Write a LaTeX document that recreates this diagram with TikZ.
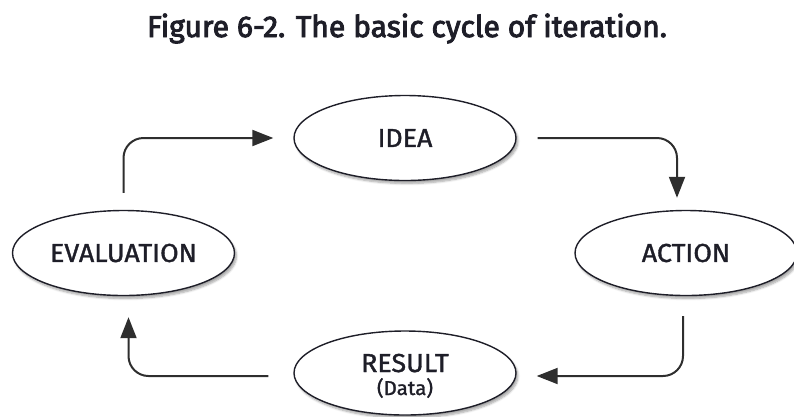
\documentclass[tikz,border=0pt]{standalone}
\usepackage{fontspec}
\setmainfont{Fira Sans}
\newfontfamily\labelfont{Fira Sans}[FakeBold=1.4, FakeStretch=1.03]
\newfontfamily\titlefont{Fira Sans}[FakeBold=3]
\usetikzlibrary{shapes.geometric,arrows.meta,shadows.blur}
\definecolor{ink}{HTML}{1E1E28}
\definecolor{wire}{HTML}{2E2E2E}
\tikzset{
  stage/.style={ellipse, draw=ink, line width=1.4pt, fill=white,
    minimum width=222pt, minimum height=85pt, inner sep=0pt,
    text=ink, font=\labelfont\fontsize{26}{28}\selectfont,
    blur shadow={shadow xshift=2pt, shadow yshift=-3pt, shadow blur steps=6, shadow opacity=35}},
  flow/.style={draw=wire, line width=2pt, rounded corners=20pt,
    -{Triangle[length=21pt,width=16pt]}},
}
\begin{document}
\begin{tikzpicture}[x=1pt,y=-1pt]
  \useasboundingbox (0,0) rectangle (794,416);
  % caption
  \node[anchor=base, text=ink, font=\titlefont\fontsize{30}{32}\selectfont] (title) at (407,37)
    {Figure 6-2. The basic cycle of iteration.};
  % the four stages of the cycle
  \node[stage] (idea)   at (405,138) {IDEA};
  \node[stage] (eval)   at (123.5,253) {EVALUATION};
  \node[stage] (action) at (686,253) {ACTION};
  \node[stage, minimum height=84pt] (result) at (405,373) {};
  \node[anchor=base, text=ink, font=\labelfont\fontsize{26}{28}\selectfont] (resultname)
    at (405,372) {RESULT};
  \node[anchor=base, text=ink, font=\labelfont\fontsize{20}{22}\selectfont] (resultdata)
    at (405,395) {(Data)};
  % connectors
  \draw[flow] ([yshift=17pt]eval.north) |- ([xshift=-20pt]idea.west);
  \draw[flow] ([xshift=21pt]idea.east) -| ([xshift=-9pt,yshift=12pt]action.north);
  \draw[flow] ([xshift=-3pt,yshift=-20pt]action.south) |- ([xshift=20pt,yshift=-3pt]result.east);
  \draw[flow] ([xshift=-25pt,yshift=-3pt]result.west) -| ([xshift=5pt,yshift=-21pt]eval.south);
\end{tikzpicture}
\end{document}
